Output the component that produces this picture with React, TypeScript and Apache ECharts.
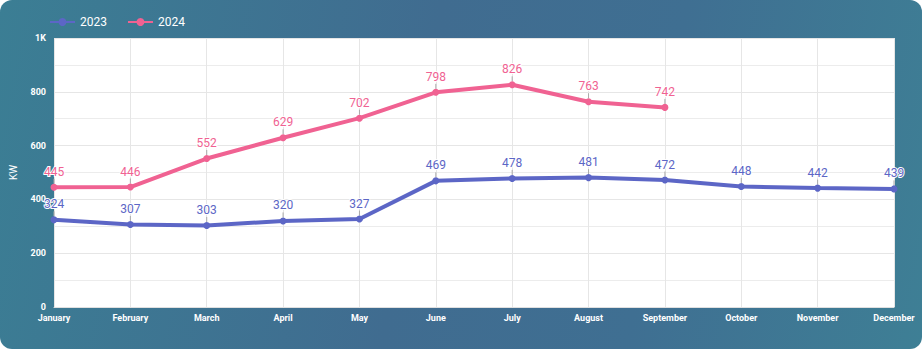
import React, { useEffect, useRef } from "react";
import * as echarts from "echarts";

const months = ["January", "February", "March", "April", "May", "June", "July", "August", "September", "October", "November", "December"];
const series2023 = [324, 307, 303, 320, 327, 469, 478, 481, 472, 448, 442, 439];
const series2024 = [445, 446, 552, 629, 702, 798, 826, 763, 742];
const seriesNames = ["2023", "2024"];
const colors = ["#5c66c6", "#f06292"];

export default function App() {
  const ref = useRef<HTMLDivElement>(null);
  useEffect(() => {
    document.body.style.margin = "0";
    const chart = echarts.init(ref.current!, null, { renderer: "svg" });
    const mkSeries = (name: string, data: number[], color: string) => ({
      name,
      type: "line",
      data,
      color,
      symbol: "circle",
      symbolSize: 7,
      lineStyle: { width: 4, color },
      itemStyle: { color },
      label: {
        show: true,
        position: "top",
        distance: 3,
        color,
        fontSize: 12,
        fontFamily: "Roboto",
        textBorderColor: "#ffffff",
        textBorderWidth: 2,
      },
      labelLine: { show: true, lineStyle: { color: "#aaaaaa", width: 1 } },
      labelLayout: { dy: -3 },
    });
    chart.setOption({
      animation: false,
      textStyle: { fontFamily: "Roboto" },
      color: colors,
      legend: {
        left: 44,
        top: 11,
        itemWidth: 25,
        itemHeight: 10,
        itemGap: 20,
        textStyle: { color: "#ffffff", fontSize: 12, fontWeight: "normal", fontFamily: "Roboto" },
        data: seriesNames,
      },
      grid: { left: 51, right: 28, top: 38, bottom: 42, show: true, backgroundColor: "#ffffff", borderWidth: 0 },
      xAxis: {
        type: "category",
        data: months,
        boundaryGap: false,
        axisLine: { show: true, lineStyle: { color: "#e0e0e0" } },
        axisTick: { show: false },
        axisLabel: { color: "#ffffff", fontSize: 9, fontWeight: "bold", margin: 6, interval: 0 },
        splitLine: { show: true, lineStyle: { color: "#e6e6e6" } },
      },
      yAxis: {
        type: "value",
        min: 0,
        max: 1000,
        interval: 200,
        name: "KW",
        nameLocation: "middle",
        nameGap: 36,
        nameRotate: 90,
        nameTextStyle: { color: "#ffffff", fontSize: 10 },
        axisLine: { show: false },
        axisTick: { show: false },
        axisLabel: {
          color: "#ffffff",
          fontSize: 9,
          fontWeight: "bold",
          margin: 8,
          formatter: (v: number) => (v >= 1000 ? v / 1000 + "K" : String(v)),
        },
        splitLine: { show: true, lineStyle: { color: "#e6e6e6" } },
        minorTick: { show: false, splitNumber: 2 },
        minorSplitLine: { show: true, lineStyle: { color: "#ececec" } },
      },
      series: [
        mkSeries(seriesNames[0], series2023, colors[0]),
        mkSeries(seriesNames[1], series2024, colors[1]),
      ],
    });
    return () => chart.dispose();
  }, []);
  return (
    <div
      style={{
        width: 922,
        height: 349,
        borderRadius: 12,
        overflow: "hidden",
        background: "linear-gradient(100deg, #3b7e94 0%, #406c90 45%, #3f6f92 70%, #3e7f95 100%)",
        position: "relative",
      }}
    >
      <div ref={ref} style={{ position: "absolute", left: 0, top: 0, width: 922, height: 349 }} />
    </div>
  );
}
